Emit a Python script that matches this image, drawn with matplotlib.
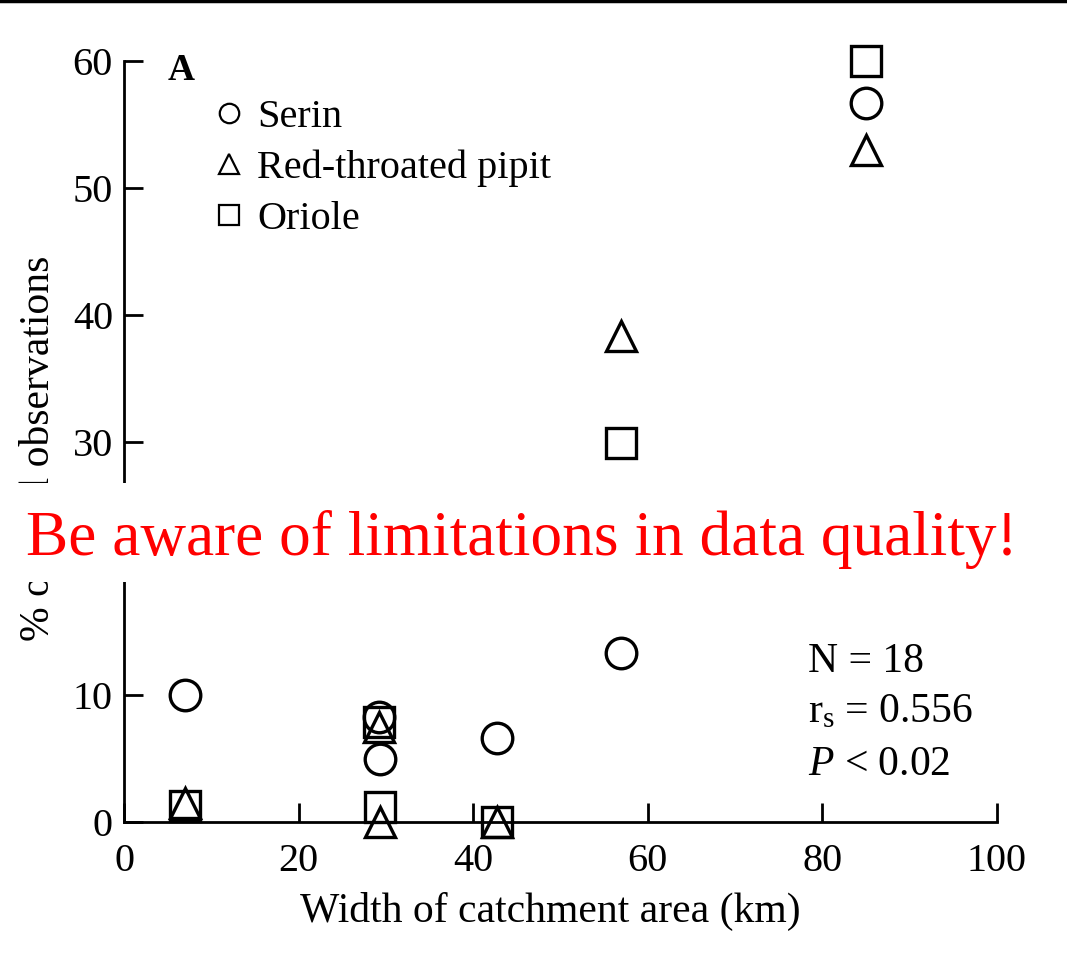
import matplotlib
matplotlib.use("Agg")
import matplotlib.pyplot as plt
from matplotlib.lines import Line2D
from matplotlib.patches import Rectangle

plt.rcParams['font.family'] = ['Liberation Serif', 'DejaVu Serif']
plt.rcParams['mathtext.fontset'] = 'custom'
plt.rcParams['mathtext.rm'] = 'Liberation Serif'
plt.rcParams['mathtext.it'] = 'Liberation Serif:italic'

# Data: width of catchment area (km) per site
sites_x = [7.0, 29.2, 29.3, 42.7, 56.9, 85.0]
serin = [10.0, 8.3, 5.0, 6.6, 13.3, 56.7]
pipit = [1.5, 7.5, 0.0, 0.0, 38.3, 53.0]
oriole = [1.3, 7.9, 1.2, 0.0, 29.9, 60.0]

species = ["Serin", "Red-throated pipit", "Oriole"]
markers = ["o", "^", "s"]

x_ticks = [0, 20, 40, 60, 80, 100]
y_ticks = [0, 10, 20, 30, 40, 50, 60]

W, H = 1067, 967
fig = plt.figure(figsize=(W / 100, H / 100), dpi=100)
ax = fig.add_axes([124 / W, 1 - 822 / H, (997 - 124) / W, (822 - 61) / H])


def fy(px):
    return 1 - px / H


mew = 2.4
ms = 22
for vals, mk in zip([oriole, pipit, serin], ["s", "^", "o"]):
    ax.plot(sites_x, vals, linestyle='none', marker=mk, markersize=ms,
            markerfacecolor='none', markeredgecolor='black',
            markeredgewidth=mew, clip_on=False, zorder=5)

ax.set_xlim(0, 100)
ax.set_ylim(0, 60)
ax.set_xticks(x_ticks)
ax.set_yticks(y_ticks)
ax.tick_params(direction='in', length=14, width=2, labelsize=29)
ax.tick_params(axis='y', pad=8)
ax.tick_params(axis='x', pad=15)
ax.spines['top'].set_visible(False)
ax.spines['right'].set_visible(False)
for s in ['left', 'bottom']:
    ax.spines[s].set_linewidth(2)

ax.set_xlabel("Width of catchment area (km)", fontsize=30)
ax.xaxis.set_label_coords((550 - 124) / 873, -(892 - 822) / 761)
ax.set_ylabel("% of total observations", fontsize=30)
ax.yaxis.set_label_coords((58 - 124) / 873, (822 - 448) / 761)

fig.text(168 / W, fy(80), "A", fontsize=27, fontweight='bold',
         va='baseline', ha='left')

handles = [Line2D([], [], linestyle='none', marker=m, markersize=14,
                  markerfacecolor='none', markeredgecolor='black',
                  markeredgewidth=1.6) for m in markers]
ax.legend(handles, species, loc='upper left', bbox_to_anchor=(0.083, 0.972),
          frameon=False, fontsize=29, handlelength=0.8, handletextpad=0.3,
          labelspacing=0.34, borderaxespad=0)

fig.text(808 / W, fy(672), "N = 18", fontsize=30, va='baseline', ha='left')
fig.text(808 / W, fy(722), "r$_{\\mathrm{s}}$ = 0.556", fontsize=30,
         va='baseline', ha='left')
fig.text(808 / W, fy(775), "$P$ < 0.02", fontsize=30, va='baseline',
         ha='left')

# top border line
fig.add_artist(Line2D([0, 1], [fy(1), fy(1)], transform=fig.transFigure,
                      color='black', linewidth=2.5))

# warning band
fig.add_artist(Rectangle((0, fy(582)), 1, (582 - 483) / H,
                         transform=fig.transFigure, facecolor='white',
                         edgecolor='none', zorder=10))
fig.text(522 / W, fy(555), "Be aware of limitations in data quality!",
         color='red', fontsize=45.5, ha='center', va='baseline', zorder=11)

fig.savefig("out.png", dpi=100)
